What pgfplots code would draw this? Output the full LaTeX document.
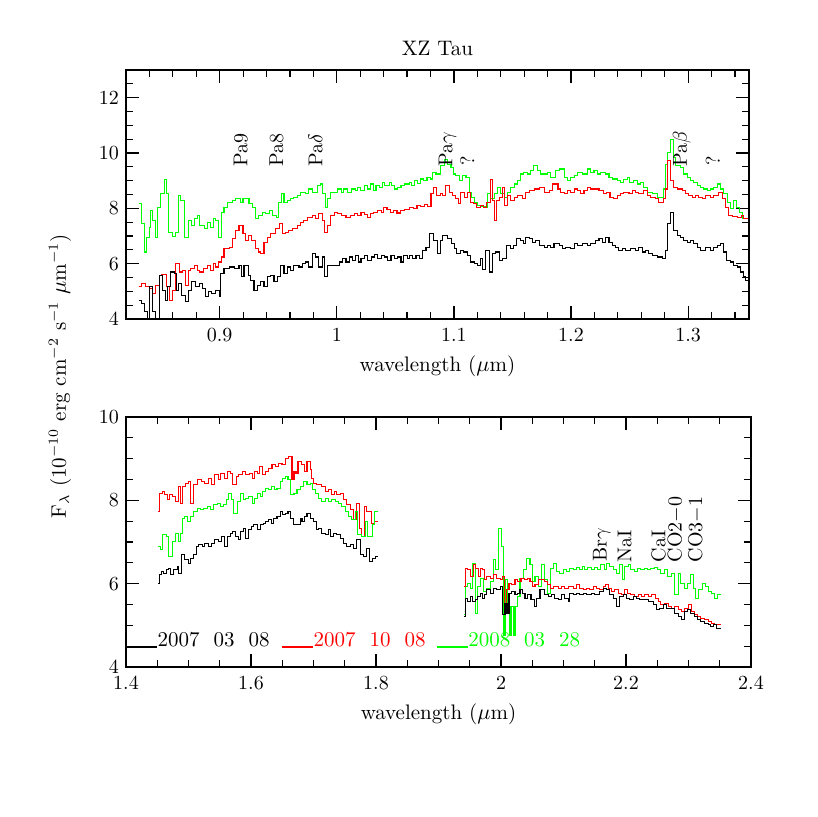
\documentclass[border=0pt]{standalone}
\usepackage{pgfplots}
\usepackage{pgfplotstable}
\pgfplotsset{compat=1.18}
\definecolor{pgred}{RGB}{255,0,0}
\definecolor{pggreen}{RGB}{0,255,0}

% ---------------- top panel data ----------------
\pgfplotstableread{
x y
0.8307 8.16
0.8335 7.44
0.8355 6.42
0.8375 6.96
0.8398 7.32
0.8412 7.92
0.8426 7.56
0.8449 6.96
0.8469 8.04
0.8497 8.52
0.8526 9.03
0.8546 8.52
0.8563 7.14
0.8597 6.99
0.8620 7.14
0.8648 8.46
0.8668 8.28
0.8696 6.96
0.8733 7.56
0.8762 7.38
0.8782 7.62
0.8810 7.74
0.8830 7.38
0.8867 7.26
0.8895 7.50
0.8924 7.32
0.8944 7.62
0.8966 7.56
0.8989 6.96
0.9017 7.86
0.9037 8.04
0.9066 8.22
0.9108 8.28
0.9137 8.34
0.9179 8.22
0.9199 8.34
0.9250 8.16
0.9279 8.04
0.9307 7.62
0.9330 7.74
0.9364 7.86
0.9393 7.80
0.9427 7.92
0.9449 7.74
0.9483 7.68
0.9506 8.22
0.9529 8.52
0.9549 8.22
0.9577 8.28
0.9606 8.34
0.9634 8.40
0.9662 8.46
0.9691 8.58
0.9733 8.52
0.9762 8.70
0.9790 8.58
0.9833 8.82
0.9861 8.88
0.9881 8.52
0.9904 8.04
0.9918 8.34
0.9947 8.58
1.0008 8.70
1.0037 8.58
1.0060 8.70
1.0094 8.58
1.0122 8.70
1.0156 8.64
1.0179 8.76
1.0202 8.64
1.0236 8.82
1.0264 8.70
1.0287 8.88
1.0315 8.64
1.0335 8.82
1.0364 8.76
1.0392 8.94
1.0406 8.82
1.0449 8.94
1.0469 8.82
1.0492 8.70
1.0520 8.76
1.0548 8.82
1.0577 8.88
1.0619 8.94
1.0639 8.82
1.0662 9.00
1.0690 8.91
1.0713 9.06
1.0742 9.00
1.0770 9.12
1.0798 9.06
1.0818 9.30
1.0847 9.24
1.0884 9.54
1.0918 9.78
1.0946 9.60
1.0975 9.48
1.0997 9.24
1.1017 9.18
1.1046 9.00
1.1074 9.18
1.1103 9.12
1.1131 8.58
1.1151 8.40
1.1174 8.22
1.1202 8.10
1.1230 8.07
1.1273 8.04
1.1287 8.52
1.1316 8.34
1.1344 8.52
1.1373 8.76
1.1401 8.52
1.1429 8.40
1.1458 8.58
1.1486 8.76
1.1515 8.88
1.1543 9.00
1.1572 9.24
1.1594 9.30
1.1628 9.24
1.1657 9.36
1.1679 9.54
1.1713 9.36
1.1742 9.24
1.1770 9.24
1.1798 9.30
1.1827 9.12
1.1869 9.36
1.1898 9.42
1.1941 9.12
1.1969 9.00
1.1997 9.12
1.2026 9.18
1.2054 9.30
1.2097 9.24
1.2139 9.42
1.2168 9.30
1.2196 9.36
1.2225 9.24
1.2253 9.30
1.2296 9.24
1.2324 9.12
1.2353 9.06
1.2395 9.00
1.2424 8.94
1.2452 9.03
1.2480 9.12
1.2503 8.94
1.2532 9.00
1.2566 8.88
1.2594 8.94
1.2622 8.76
1.2651 8.58
1.2694 8.52
1.2736 8.40
1.2787 8.70
1.2807 9.60
1.2827 10.02
1.2850 10.50
1.2873 9.84
1.2892 9.54
1.2935 9.48
1.2963 9.24
1.2992 9.12
1.3020 9.00
1.3049 8.94
1.3077 8.82
1.3106 8.76
1.3134 8.70
1.3162 8.64
1.3191 8.70
1.3219 8.76
1.3248 8.88
1.3276 8.70
1.3305 8.52
1.3333 8.22
1.3361 7.98
1.3390 8.28
1.3413 8.04
1.3435 7.86
1.3461 7.62
1.3489 7.62
1.3509 7.62
}\topgreen

\pgfplotstableread{
x y
0.8307 5.19
0.8335 5.28
0.8364 5.19
0.8404 5.10
0.8426 4.92
0.8455 5.22
0.8483 5.58
0.8506 5.62
0.8546 5.16
0.8568 4.66
0.8597 5.04
0.8625 6.00
0.8654 5.70
0.8682 5.76
0.8710 5.22
0.8730 5.76
0.8753 5.82
0.8782 5.94
0.8810 5.76
0.8830 5.70
0.8858 5.82
0.8895 5.94
0.8924 5.76
0.8944 6.00
0.8966 5.88
0.8989 6.06
0.9017 6.24
0.9037 6.54
0.9080 6.60
0.9108 6.90
0.9137 7.20
0.9165 7.38
0.9199 7.08
0.9222 6.84
0.9245 7.02
0.9273 6.84
0.9302 6.54
0.9330 6.42
0.9350 6.36
0.9378 6.78
0.9407 6.96
0.9435 7.08
0.9478 7.26
0.9512 7.44
0.9535 7.08
0.9563 7.14
0.9591 7.20
0.9620 7.26
0.9662 7.38
0.9691 7.50
0.9719 7.56
0.9748 7.68
0.9790 7.74
0.9819 7.62
0.9847 7.80
0.9876 7.56
0.9895 7.14
0.9918 7.38
0.9947 7.74
0.9980 7.86
1.0008 7.80
1.0037 7.74
1.0079 7.66
1.0116 7.74
1.0151 7.80
1.0179 7.74
1.0207 7.86
1.0236 7.78
1.0264 7.66
1.0287 7.80
1.0315 7.86
1.0349 7.92
1.0378 7.86
1.0401 8.04
1.0429 7.95
1.0457 7.86
1.0486 7.92
1.0514 7.83
1.0543 7.92
1.0577 7.95
1.0619 8.02
1.0656 7.98
1.0685 8.10
1.0713 8.07
1.0747 8.14
1.0776 8.07
1.0804 8.52
1.0827 8.76
1.0855 8.46
1.0884 8.55
1.0904 8.46
1.0932 8.82
1.0960 8.58
1.0989 8.46
1.1017 8.34
1.1037 8.16
1.1060 8.58
1.1088 8.40
1.1117 8.58
1.1145 8.22
1.1168 8.16
1.1196 8.04
1.1225 8.10
1.1253 8.02
1.1282 8.22
1.1310 9.03
1.1330 8.28
1.1344 7.56
1.1367 8.28
1.1387 8.40
1.1415 8.76
1.1435 8.10
1.1458 8.46
1.1486 8.28
1.1515 8.40
1.1543 8.46
1.1586 8.34
1.1614 8.58
1.1643 8.64
1.1685 8.70
1.1728 8.76
1.1770 8.58
1.1813 8.64
1.1841 8.88
1.1889 8.70
1.1912 8.58
1.1941 8.52
1.1969 8.64
1.1997 8.58
1.2031 8.70
1.2054 8.64
1.2083 8.52
1.2111 8.64
1.2139 8.76
1.2168 8.70
1.2239 8.64
1.2276 8.52
1.2304 8.58
1.2333 8.40
1.2361 8.34
1.2395 8.46
1.2424 8.52
1.2452 8.58
1.2495 8.52
1.2523 8.64
1.2551 8.58
1.2580 8.52
1.2622 8.64
1.2651 8.46
1.2679 8.40
1.2722 8.34
1.2750 8.22
1.2787 8.34
1.2807 8.70
1.2827 9.72
1.2850 9.00
1.2878 8.76
1.2907 8.70
1.2949 8.64
1.2978 8.52
1.3006 8.46
1.3035 8.40
1.3063 8.46
1.3091 8.40
1.3120 8.34
1.3148 8.46
1.3191 8.40
1.3219 8.46
1.3262 8.58
1.3290 8.34
1.3319 8.04
1.3347 7.74
1.3376 7.71
1.3418 7.66
1.3452 7.74
1.3475 7.62
1.3509 7.62
}\topred

\pgfplotstableread{
x y
0.8307 4.66
0.8335 4.56
0.8355 4.27
0.8384 3.80
0.8404 5.16
0.8426 4.27
0.8455 3.80
0.8483 5.58
0.8512 5.04
0.8534 4.68
0.8554 5.16
0.8583 5.70
0.8611 5.64
0.8631 5.04
0.8648 5.28
0.8676 4.86
0.8705 4.62
0.8733 5.04
0.8762 5.34
0.8796 5.16
0.8824 5.28
0.8853 5.10
0.8881 4.80
0.8904 4.98
0.8932 4.92
0.8966 5.04
0.8995 4.80
0.9009 5.64
0.9037 5.82
0.9080 5.88
0.9123 5.82
0.9165 5.94
0.9188 5.52
0.9208 5.94
0.9245 5.58
0.9265 5.40
0.9293 5.04
0.9322 5.22
0.9350 5.34
0.9378 5.16
0.9407 5.52
0.9435 5.58
0.9464 5.34
0.9492 5.52
0.9520 5.94
0.9549 5.64
0.9577 5.88
0.9606 5.76
0.9634 5.94
0.9677 5.88
0.9705 6.00
0.9733 6.06
0.9762 5.88
0.9790 6.36
0.9819 6.24
0.9847 5.88
0.9876 6.24
0.9895 5.52
0.9918 5.94
0.9947 5.94
1.0023 6.06
1.0051 6.18
1.0079 6.06
1.0108 6.24
1.0136 6.12
1.0156 6.30
1.0185 6.06
1.0207 6.18
1.0236 6.30
1.0264 6.12
1.0293 6.24
1.0321 6.34
1.0349 6.18
1.0378 6.30
1.0406 6.24
1.0435 6.12
1.0463 6.30
1.0492 6.18
1.0520 6.24
1.0548 6.06
1.0571 6.30
1.0600 6.18
1.0619 6.30
1.0648 6.18
1.0676 6.30
1.0705 6.18
1.0733 6.48
1.0762 6.60
1.0790 7.08
1.0827 6.84
1.0861 6.36
1.0884 6.84
1.0904 7.02
1.0946 6.90
1.0980 6.72
1.1003 6.54
1.1026 6.36
1.1054 6.48
1.1083 6.42
1.1117 6.30
1.1145 6.06
1.1174 6.00
1.1202 5.94
1.1230 6.18
1.1245 5.79
1.1273 6.48
1.1302 5.70
1.1330 6.36
1.1358 6.42
1.1387 6.12
1.1415 6.18
1.1452 6.66
1.1481 6.54
1.1509 6.66
1.1537 6.90
1.1566 6.84
1.1594 6.72
1.1614 6.96
1.1643 6.90
1.1671 6.78
1.1699 6.84
1.1728 6.66
1.1770 6.60
1.1798 6.66
1.1827 6.60
1.1855 6.72
1.1898 6.66
1.1926 6.54
1.1955 6.60
1.1997 6.54
1.2026 6.72
1.2054 6.66
1.2097 6.72
1.2139 6.66
1.2168 6.72
1.2210 6.84
1.2239 6.90
1.2267 6.78
1.2296 6.96
1.2324 6.78
1.2353 6.66
1.2381 6.60
1.2409 6.48
1.2438 6.54
1.2466 6.48
1.2509 6.54
1.2551 6.48
1.2580 6.58
1.2608 6.42
1.2637 6.48
1.2665 6.36
1.2694 6.30
1.2736 6.24
1.2779 6.18
1.2807 6.48
1.2827 7.44
1.2850 7.86
1.2873 7.20
1.2907 7.02
1.2935 6.96
1.2963 6.84
1.2992 6.78
1.3020 6.84
1.3049 6.72
1.3077 6.60
1.3106 6.48
1.3148 6.60
1.3191 6.48
1.3219 6.60
1.3248 6.66
1.3276 6.72
1.3305 6.42
1.3327 6.12
1.3361 6.06
1.3390 5.94
1.3418 5.88
1.3447 5.70
1.3475 5.52
1.3489 5.40
1.3509 5.40
}\topblack

% ---------------- bottom panel data ----------------
\pgfplotstableread{
x y
1.4515 7.74
1.4537 8.17
1.4579 8.21
1.4622 8.13
1.4659 8.01
1.4696 8.13
1.4739 8.09
1.4792 7.97
1.4835 8.33
1.4872 7.93
1.4899 8.33
1.4952 8.41
1.4995 8.45
1.5032 7.93
1.5085 8.37
1.5138 8.49
1.5208 8.45
1.5261 8.41
1.5314 8.53
1.5367 8.37
1.5421 8.61
1.5474 8.49
1.5516 8.65
1.5570 8.53
1.5618 8.69
1.5671 8.65
1.5708 8.37
1.5761 8.57
1.5804 8.61
1.5857 8.69
1.5910 8.61
1.5974 8.65
1.6017 8.53
1.6060 8.69
1.6097 8.65
1.6134 8.81
1.6187 8.61
1.6230 8.69
1.6283 8.77
1.6336 8.85
1.6390 8.81
1.6443 8.89
1.6496 8.85
1.6549 9.01
1.6603 9.05
1.6656 8.49
1.6688 8.69
1.6720 8.65
1.6752 8.93
1.6805 8.85
1.6858 8.69
1.6896 8.93
1.6949 8.73
1.6975 8.53
1.7002 8.41
1.7055 8.37
1.7135 8.33
1.7188 8.21
1.7242 8.25
1.7295 8.13
1.7337 8.21
1.7375 8.13
1.7428 8.17
1.7481 8.01
1.7535 7.89
1.7588 7.77
1.7641 7.53
1.7694 7.93
1.7731 7.33
1.7774 7.13
1.7812 7.85
1.7854 7.73
1.7934 7.45
1.7976 7.49
1.8024 7.49
}\botredA

\pgfplotstableread{
x y
1.4515 6.89
1.4553 6.81
1.4579 7.17
1.4643 7.13
1.4686 6.65
1.4739 7.01
1.4792 7.21
1.4845 7.01
1.4872 7.21
1.4899 7.57
1.4941 7.61
1.4979 7.49
1.5032 7.61
1.5085 7.73
1.5138 7.81
1.5192 7.77
1.5245 7.81
1.5298 7.85
1.5351 7.77
1.5405 7.89
1.5458 7.93
1.5511 7.85
1.5564 7.89
1.5602 8.01
1.5644 8.17
1.5687 8.01
1.5724 7.69
1.5777 7.97
1.5831 8.17
1.5873 8.01
1.5910 8.05
1.5964 8.09
1.6017 7.93
1.6060 8.05
1.6097 8.17
1.6150 8.09
1.6187 8.21
1.6230 8.29
1.6283 8.25
1.6326 8.33
1.6379 8.25
1.6416 8.29
1.6470 8.45
1.6507 8.53
1.6549 8.57
1.6592 8.49
1.6635 8.13
1.6688 8.17
1.6736 8.25
1.6789 8.33
1.6842 8.45
1.6896 8.37
1.6949 8.41
1.6986 8.25
1.7029 8.17
1.7082 8.05
1.7135 7.97
1.7188 8.05
1.7242 7.97
1.7295 8.01
1.7348 7.97
1.7401 7.93
1.7455 7.85
1.7508 7.73
1.7561 7.61
1.7614 7.53
1.7668 7.73
1.7710 7.17
1.7764 7.13
1.7827 7.49
1.7870 7.13
1.7944 7.41
1.7976 7.73
1.8024 7.73
}\botgreenA

\pgfplotstableread{
x y
1.4515 6.01
1.4537 6.21
1.4569 6.29
1.4606 6.25
1.4643 6.33
1.4686 6.37
1.4712 6.21
1.4766 6.33
1.4819 6.41
1.4845 6.25
1.4888 6.69
1.4941 6.57
1.4995 6.49
1.5032 6.61
1.5085 6.69
1.5122 6.89
1.5165 6.93
1.5218 6.89
1.5261 6.97
1.5314 6.89
1.5367 6.97
1.5421 7.05
1.5474 7.01
1.5527 7.13
1.5580 6.89
1.5618 7.13
1.5671 7.21
1.5708 7.25
1.5751 7.13
1.5793 7.05
1.5831 7.25
1.5873 7.33
1.5910 7.09
1.5953 7.29
1.6006 7.37
1.6044 7.41
1.6097 7.29
1.6150 7.41
1.6203 7.45
1.6230 7.49
1.6283 7.53
1.6326 7.45
1.6363 7.57
1.6416 7.61
1.6470 7.73
1.6507 7.65
1.6549 7.69
1.6592 7.73
1.6635 7.57
1.6683 7.41
1.6736 7.41
1.6789 7.57
1.6816 7.49
1.6858 7.61
1.6896 7.69
1.6949 7.57
1.7002 7.49
1.7055 7.29
1.7082 7.33
1.7135 7.21
1.7188 7.17
1.7242 7.29
1.7268 7.13
1.7322 7.21
1.7375 7.17
1.7428 7.09
1.7481 6.97
1.7535 6.89
1.7588 6.93
1.7641 6.85
1.7694 7.05
1.7747 6.69
1.7801 6.65
1.7854 6.85
1.7891 6.53
1.7944 6.61
1.7987 6.65
1.8024 6.65
}\botblackA

\pgfplotstableread{
x y
1.9415 5.25
1.9436 5.93
1.9468 6.01
1.9505 5.89
1.9543 6.49
1.9585 5.29
1.9628 5.93
1.9665 6.13
1.9718 5.81
1.9772 5.89
1.9825 6.05
1.9878 6.57
1.9915 6.33
1.9958 7.33
2.0011 6.89
2.0038 4.75
2.0064 6.09
2.0107 5.45
2.0144 4.75
2.0171 5.45
2.0198 4.75
2.0224 5.45
2.0267 5.69
2.0304 6.13
2.0357 6.33
2.0410 6.61
2.0464 6.45
2.0501 6.05
2.0544 6.17
2.0597 5.93
2.0650 6.45
2.0693 6.09
2.0746 5.77
2.0799 6.37
2.0837 6.49
2.0890 6.29
2.0943 6.25
2.0996 6.33
2.1050 6.29
2.1103 6.37
2.1156 6.33
2.1209 6.39
2.1263 6.34
2.1300 6.41
2.1342 6.34
2.1385 6.39
2.1449 6.33
2.1502 6.39
2.1545 6.33
2.1598 6.45
2.1651 6.33
2.1689 6.49
2.1742 6.41
2.1795 6.33
2.1848 6.25
2.1902 6.45
2.1939 6.09
2.1981 6.41
2.2035 6.45
2.2077 6.33
2.2130 6.29
2.2184 6.37
2.2237 6.33
2.2290 6.37
2.2343 6.33
2.2397 6.37
2.2461 6.39
2.2503 6.33
2.2556 6.25
2.2610 6.33
2.2663 6.17
2.2727 6.25
2.2780 5.73
2.2833 6.25
2.2876 6.01
2.2929 5.89
2.2982 6.01
2.3036 6.21
2.3073 5.89
2.3110 5.65
2.3163 5.85
2.3217 6.01
2.3270 5.93
2.3313 5.81
2.3366 5.77
2.3419 5.65
2.3462 5.73
2.3526 5.73
}\botgreenB

\pgfplotstableread{
x y
1.9415 5.94
1.9436 6.37
1.9468 6.33
1.9505 6.17
1.9559 6.45
1.9596 6.37
1.9638 6.17
1.9665 6.37
1.9702 6.33
1.9734 6.09
1.9772 6.17
1.9825 6.13
1.9878 6.21
1.9931 6.13
1.9985 6.09
2.0022 6.17
2.0054 5.37
2.0091 5.85
2.0128 6.01
2.0171 5.97
2.0224 6.09
2.0267 6.05
2.0320 6.13
2.0373 6.09
2.0427 6.13
2.0464 6.05
2.0501 5.93
2.0544 5.97
2.0597 6.09
2.0650 6.10
2.0703 6.05
2.0746 5.97
2.0799 5.89
2.0837 5.93
2.0916 5.89
2.0970 5.93
2.1023 5.89
2.1076 5.93
2.1156 5.89
2.1209 5.97
2.1263 5.89
2.1316 5.85
2.1369 5.89
2.1422 5.85
2.1475 5.93
2.1529 5.89
2.1582 5.85
2.1635 5.93
2.1673 5.97
2.1715 5.89
2.1768 5.81
2.1822 5.85
2.1875 5.77
2.1928 5.73
2.1981 5.85
2.2024 5.77
2.2077 5.73
2.2141 5.69
2.2194 5.73
2.2248 5.69
2.2301 5.73
2.2354 5.69
2.2407 5.73
2.2471 5.65
2.2514 5.57
2.2556 5.49
2.2620 5.53
2.2674 5.45
2.2727 5.41
2.2780 5.45
2.2833 5.37
2.2887 5.33
2.2940 5.41
2.3004 5.49
2.3046 5.33
2.3089 5.25
2.3142 5.21
2.3195 5.17
2.3249 5.13
2.3313 5.09
2.3366 5.05
2.3419 5.01
2.3462 5.01
2.3526 5.01
}\botredB

\pgfplotstableread{
x y
1.9415 5.22
1.9436 5.65
1.9468 5.57
1.9505 5.69
1.9543 5.57
1.9585 5.61
1.9628 5.69
1.9665 5.77
1.9702 5.65
1.9734 5.73
1.9772 5.85
1.9825 5.77
1.9878 5.89
1.9931 5.85
1.9985 5.94
2.0022 5.25
2.0064 5.53
2.0096 5.29
2.0128 5.77
2.0171 5.81
2.0224 5.73
2.0267 5.77
2.0304 5.85
2.0341 5.77
2.0384 5.65
2.0427 5.73
2.0480 5.61
2.0533 5.45
2.0570 5.65
2.0624 5.85
2.0661 5.85
2.0703 5.73
2.0757 5.69
2.0810 5.73
2.0863 5.65
2.0916 5.61
2.0970 5.73
2.1023 5.65
2.1076 5.57
2.1103 5.77
2.1156 5.73
2.1209 5.77
2.1263 5.73
2.1316 5.77
2.1369 5.73
2.1449 5.77
2.1502 5.73
2.1582 5.81
2.1635 5.89
2.1689 5.85
2.1742 5.73
2.1795 5.65
2.1848 5.45
2.1902 5.69
2.1955 5.73
2.2008 5.65
2.2061 5.61
2.2115 5.69
2.2168 5.65
2.2221 5.61
2.2274 5.61
2.2354 5.57
2.2434 5.49
2.2487 5.37
2.2540 5.41
2.2594 5.49
2.2647 5.41
2.2700 5.41
2.2780 5.29
2.2833 5.21
2.2887 5.13
2.2929 5.33
2.2982 5.37
2.3036 5.29
2.3089 5.21
2.3142 5.13
2.3195 5.09
2.3249 5.05
2.3313 5.01
2.3355 4.97
2.3398 5.01
2.3446 4.93
2.3526 4.93
}\botblackB

\pgfplotsset{
  pgstyle/.style={
    scale only axis,
    axis line style={line width=0.75pt},
    tick align=inside,
    xticklabel pos=lower,
    yticklabel pos=left,
    xtick pos=both,
    ytick pos=both,
    major tick length=6.3pt,
    minor tick length=3.3pt,
    every tick/.style={black, line width=0.6pt},
    tick label style={font=\fontsize{10}{12}\selectfont},
    xticklabel style={yshift=-1.5pt},
    label style={font=\fontsize{10.5}{12}\selectfont},
    title style={font=\fontsize{10.5}{12}\selectfont, yshift=-2.5pt},
    every axis plot/.append style={const plot, line width=0.55pt, mark=none},
  },
}
\tikzset{ann/.style={rotate=90, anchor=west, inner sep=0pt, font=\fontsize{10}{12}\selectfont}}

\begin{document}
\begin{tikzpicture}
\path[use as bounding box] (0,0) rectangle (408.5pt,408.5pt);

\begin{axis}[pgstyle,
  at={(63pt,249pt)}, anchor=south west,
  width=311.5pt, height=124.5pt,
  xmin=0.82, xmax=1.352, ymin=4, ymax=13,
  xtick={0.9,1,1.1,1.2,1.3},
  minor xtick={0.82,0.84,...,1.35},
  ytick={4,6,8,10,12},
  minor ytick={4,4.5,...,13},
  xlabel={wavelength ($\mu$m)},
  title={XZ Tau},
]
\addplot[pggreen] table {\topgreen};
\addplot[pgred] table {\topred};
\addplot[black] table {\topblack};
\node[ann] at (axis cs:0.918,9.50) {Pa9};
\node[ann] at (axis cs:0.9486,9.50) {Pa8};
\node[ann] at (axis cs:0.9818,9.50) {Pa$\delta$};
\node[ann] at (axis cs:1.0945,9.50) {Pa$\gamma$};
\node[ann] at (axis cs:1.1114,9.55) {?};
\node[ann] at (axis cs:1.2947,9.50) {Pa$\beta$};
\node[ann] at (axis cs:1.3210,9.55) {?};
\end{axis}

\begin{axis}[pgstyle,
  at={(63pt,75pt)}, anchor=south west,
  width=312.5pt, height=125pt,
  xmin=1.4, xmax=2.4, ymin=4, ymax=10,
  xtick={1.4,1.6,1.8,2,2.2,2.4},
  minor xtick={1.4,1.45,...,2.4},
  ytick={4,6,8,10},
  minor ytick={4,4.5,...,10},
  xlabel={wavelength ($\mu$m)},
]
\addplot[pgred] table {\botredA};
\addplot[pggreen] table {\botgreenA};
\addplot[black] table {\botblackA};
\addplot[pggreen] table {\botgreenB};
\addplot[pgred] table {\botredB};
\addplot[black] table {\botblackB};
% legend
\addplot[black, sharp plot] coordinates {(1.401,4.48) (1.450,4.48)};
\addplot[pgred, sharp plot] coordinates {(1.650,4.48) (1.6995,4.48)};
\addplot[pggreen, sharp plot] coordinates {(1.8975,4.48) (1.947,4.48)};
\node[anchor=base west, inner sep=0pt, font=\fontsize{10.5}{12}\selectfont, text=black] at (axis cs:1.450,4.48) {2007\ \ 03\ \ 08};
\node[anchor=base west, inner sep=0pt, font=\fontsize{10.5}{12}\selectfont, text=pgred] at (axis cs:1.6995,4.48) {2007\ \ 10\ \ 08};
\node[anchor=base west, inner sep=0pt, font=\fontsize{10.5}{12}\selectfont, text=pggreen] at (axis cs:1.947,4.48) {2008\ \ 03\ \ 28};
% line identifications
\node[ann] at (axis cs:2.161,6.53) {Br$\gamma$};
\node[ann] at (axis cs:2.198,6.50) {NaI};
\node[ann] at (axis cs:2.252,6.50) {CaI};
\node[ann] at (axis cs:2.279,6.50) {CO2$-$0};
\node[ann] at (axis cs:2.312,6.50) {CO3$-$1};
\end{axis}

\node[rotate=90, font=\fontsize{10.5}{12}\selectfont] at (30pt,220.5pt)
  {F$_\lambda$ (10$^{-10}$ erg cm$^{-2}$ s$^{-1}$ $\mu$m$^{-1}$)};
\end{tikzpicture}
\end{document}
